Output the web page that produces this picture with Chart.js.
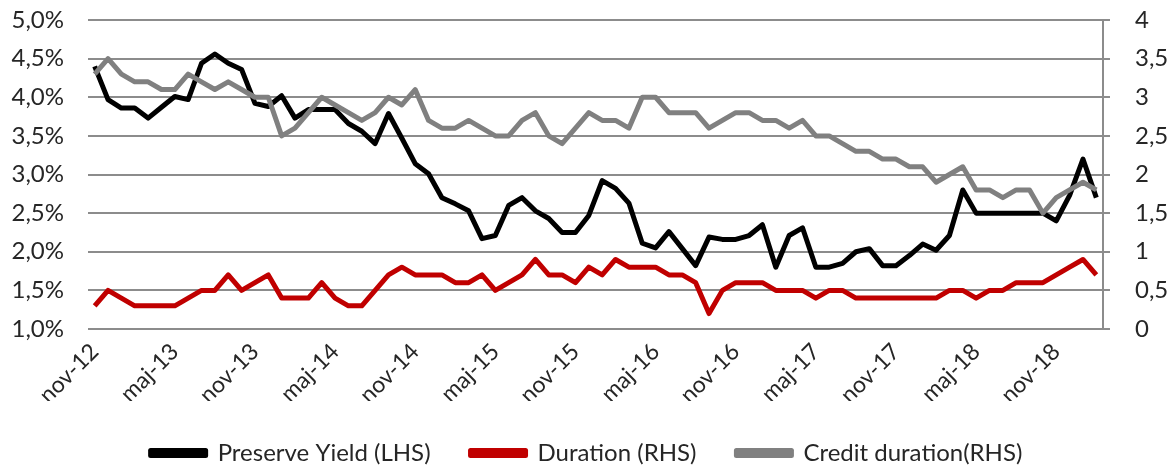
<!DOCTYPE html>
<html>
<head>
<meta charset="utf-8">
<script src="https://cdn.jsdelivr.net/npm/chart.js@4"></script>
<style>
  html, body { margin: 0; padding: 0; background: #fff; }
  #wrap { width: 1173px; height: 475px; }
</style>
</head>
<body>
<div id="wrap"><canvas id="chart" width="1173" height="475"></canvas></div>
<script>
// Måneder nov-12 .. feb-19
const months = [
  "nov-12","dec-12","jan-13","feb-13","mar-13","apr-13","maj-13","jun-13","jul-13","aug-13","sep-13","okt-13",
  "nov-13","dec-13","jan-14","feb-14","mar-14","apr-14","maj-14","jun-14","jul-14","aug-14","sep-14","okt-14",
  "nov-14","dec-14","jan-15","feb-15","mar-15","apr-15","maj-15","jun-15","jul-15","aug-15","sep-15","okt-15",
  "nov-15","dec-15","jan-16","feb-16","mar-16","apr-16","maj-16","jun-16","jul-16","aug-16","sep-16","okt-16",
  "nov-16","dec-16","jan-17","feb-17","mar-17","apr-17","maj-17","jun-17","jul-17","aug-17","sep-17","okt-17",
  "nov-17","dec-17","jan-18","feb-18","mar-18","apr-18","maj-18","jun-18","jul-18","aug-18","sep-18","okt-18",
  "nov-18","dec-18","jan-19","feb-19"
];

const tickLabels = ["nov-12","maj-13","nov-13","maj-14","nov-14","maj-15","nov-15",
  "maj-16","nov-16","maj-17","nov-17","maj-18","nov-18"];

// Preserve Yield, % (LHS)
const preserveYield = [
  4.40, 3.97, 3.86, 3.86, 3.73, 3.87, 4.01, 3.97, 4.44, 4.56, 4.44, 4.36,
  3.92, 3.88, 4.02, 3.73, 3.84, 3.84, 3.84, 3.66, 3.56, 3.40, 3.79, 3.47,
  3.14, 3.01, 2.70, 2.62, 2.53, 2.17, 2.21, 2.60, 2.70, 2.53, 2.43, 2.25,
  2.25, 2.47, 2.92, 2.82, 2.63, 2.11, 2.05, 2.26, 2.04, 1.82, 2.19, 2.16,
  2.16, 2.21, 2.35, 1.80, 2.21, 2.31, 1.80, 1.80, 1.85, 2.00, 2.04, 1.82,
  1.82, 1.95, 2.10, 2.02, 2.21, 2.80, 2.50, 2.50, 2.50, 2.50, 2.50, 2.50,
  2.40, 2.73, 3.20, 2.70
];

// Duration (RHS)
const duration = [
  0.3, 0.5, 0.4, 0.3, 0.3, 0.3, 0.3, 0.4, 0.5, 0.5, 0.7, 0.5,
  0.6, 0.7, 0.4, 0.4, 0.4, 0.6, 0.4, 0.3, 0.3, 0.5, 0.7, 0.8,
  0.7, 0.7, 0.7, 0.6, 0.6, 0.7, 0.5, 0.6, 0.7, 0.9, 0.7, 0.7,
  0.6, 0.8, 0.7, 0.9, 0.8, 0.8, 0.8, 0.7, 0.7, 0.6, 0.2, 0.5,
  0.6, 0.6, 0.6, 0.5, 0.5, 0.5, 0.4, 0.5, 0.5, 0.4, 0.4, 0.4,
  0.4, 0.4, 0.4, 0.4, 0.5, 0.5, 0.4, 0.5, 0.5, 0.6, 0.6, 0.6,
  0.7, 0.8, 0.9, 0.7
];

// Credit duration (RHS)
const creditDuration = [
  3.3, 3.5, 3.3, 3.2, 3.2, 3.1, 3.1, 3.3, 3.2, 3.1, 3.2, 3.1,
  3.0, 3.0, 2.5, 2.6, 2.8, 3.0, 2.9, 2.8, 2.7, 2.8, 3.0, 2.9,
  3.1, 2.7, 2.6, 2.6, 2.7, 2.6, 2.5, 2.5, 2.7, 2.8, 2.5, 2.4,
  2.6, 2.8, 2.7, 2.7, 2.6, 3.0, 3.0, 2.8, 2.8, 2.8, 2.6, 2.7,
  2.8, 2.8, 2.7, 2.7, 2.6, 2.7, 2.5, 2.5, 2.4, 2.3, 2.3, 2.2,
  2.2, 2.1, 2.1, 1.9, 2.0, 2.1, 1.8, 1.8, 1.7, 1.8, 1.8, 1.5,
  1.7, 1.8, 1.9, 1.8
];

const GRID = "#8c8c8c";

Chart.defaults.font.family = "Lato";
Chart.defaults.font.size = 23;
Chart.defaults.color = "#262626";

function lineSet(label, data, axis, color, order) {
  return {
    label, data, yAxisID: axis,
    borderColor: color, backgroundColor: color,
    borderWidth: 5, pointRadius: 0, tension: 0,
    borderJoinStyle: "round", order
  };
}

// ingen ekstra luft fra aksernes labels, så plotområdet ligger fast
function noPad(s) {
  s.paddingTop = 0; s.paddingBottom = 0;
  s.paddingLeft = 0; s.paddingRight = 0;
}

const ctx = document.getElementById("chart").getContext("2d");

new Chart(ctx, {
  type: "line",
  data: {
    labels: months,
    datasets: [
      lineSet("Preserve Yield (LHS)", preserveYield, "y", "#000000", 3),
      lineSet("Duration (RHS)", duration, "y1", "#c00000", 2),
      lineSet("Credit duration(RHS)", creditDuration, "y1", "#808080", 1)
    ]
  },
  options: {
    responsive: false,
    animation: false,
    layout: { padding: { top: 20, right: 0, bottom: 0, left: 0 } },
    plugins: {
      legend: {
        position: "bottom",
        labels: {
          boxWidth: 55, boxHeight: 5, padding: 40, font: { size: 24 },
          sort: (a, b) => a.datasetIndex - b.datasetIndex
        }
      },
      tooltip: { enabled: false }
    },
    scales: {
      x: {
        offset: true,
        grid: { display: false },
        border: { display: false },
        ticks: {
          autoSkip: false, maxRotation: 45, minRotation: 45, padding: 1,
          callback: (v, i) => tickLabels.includes(months[i]) ? months[i] : null
        },
        afterFit: s => { noPad(s); s.height = 72; }
      },
      y: {
        position: "left", min: 1, max: 5,
        ticks: { stepSize: 0.5, padding: 24, font: { size: 24 },
          callback: v => v.toFixed(1).replace(".", ",") + "%" },
        grid: { color: GRID, lineWidth: 2, drawTicks: false },
        border: { display: false },
        afterFit: s => { noPad(s); s.width = 88; }
      },
      y1: {
        position: "right", min: 0, max: 4,
        ticks: { stepSize: 0.5, padding: 25, font: { size: 24 },
          callback: v => String(v).replace(".", ",") },
        grid: { drawOnChartArea: false, color: GRID, lineWidth: 2, tickLength: 7 },
        border: { display: true, color: GRID, width: 2 },
        afterFit: s => { noPad(s); s.width = 70; }
      }
    }
  }
});
</script>
</body>
</html>
